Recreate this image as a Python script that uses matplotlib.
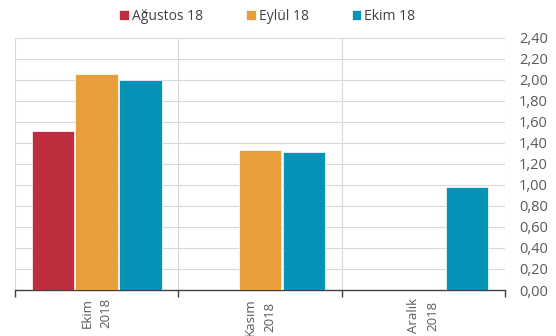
import numpy as np
import matplotlib
matplotlib.use("Agg")
from matplotlib import pyplot as plt
from matplotlib.ticker import FixedLocator, FuncFormatter

categories = ["Ekim\n2018", "Kasım\n2018", "Aralık\n2018"]
series = ["Ağustos 18", "Eylül 18", "Ekim 18"]
agustos = [1.51, np.nan, np.nan]
eylul = [2.05, 1.33, np.nan]
ekim = [2.00, 1.31, 0.98]
colors = ["#BE2D3D", "#E89E3A", "#0592B7"]

plt.rcParams["font.family"] = ["Open Sans", "DejaVu Sans"]

fig = plt.figure(figsize=(5.56, 3.36), dpi=100)
ax = fig.add_axes([15 / 556, (336 - 290) / 336, 490 / 556, 252.3 / 336])

x = np.arange(len(categories))
w = 0.26
for i, (vals, name, c) in enumerate(zip([agustos, eylul, ekim], series, colors)):
    ax.bar(x + (i - 1) * (w + 0.008), vals, w, color=c, label=name,
           edgecolor="white", linewidth=0.5, zorder=3)

ax.set_xlim(-0.5, 2.5)
ax.set_ylim(0, 2.4)
ax.set_yticks(np.arange(0, 2.41, 0.2))
ax.yaxis.set_major_formatter(FuncFormatter(lambda v, p: f"{v:.2f}".replace(".", ",")))
ax.yaxis.tick_right()
ax.tick_params(axis="y", length=0, labelsize=10.5, colors="#595959", pad=10)
ax.grid(axis="y", color="#d9d9d9", linewidth=0.8, zorder=0)

ax.set_xticks(x)
ax.set_xticklabels(categories, rotation=90, fontsize=9.5, color="#595959",
                   linespacing=1.6)
ax.tick_params(axis="x", which="major", length=0, pad=6)
ax.xaxis.set_minor_locator(FixedLocator([-0.5, 0.5, 1.5, 2.5]))
ax.tick_params(axis="x", which="minor", length=5, color="#404040", width=1)
for b in [0.5, 1.5, 2.5, -0.5]:
    ax.axvline(b, color="#d9d9d9", linewidth=0.8, zorder=0)

for s in ["top", "left", "right"]:
    ax.spines[s].set_visible(False)
ax.spines["bottom"].set_color("#404040")
ax.spines["bottom"].set_linewidth(1)

ax.legend(loc="lower center", bbox_to_anchor=(0.515, 1.005), ncol=3, frameon=False,
          fontsize=10, handlelength=0.7, handleheight=0.7, handletextpad=0.2,
          columnspacing=3.1, labelcolor="#404040")

fig.savefig("out.png", dpi=100)
